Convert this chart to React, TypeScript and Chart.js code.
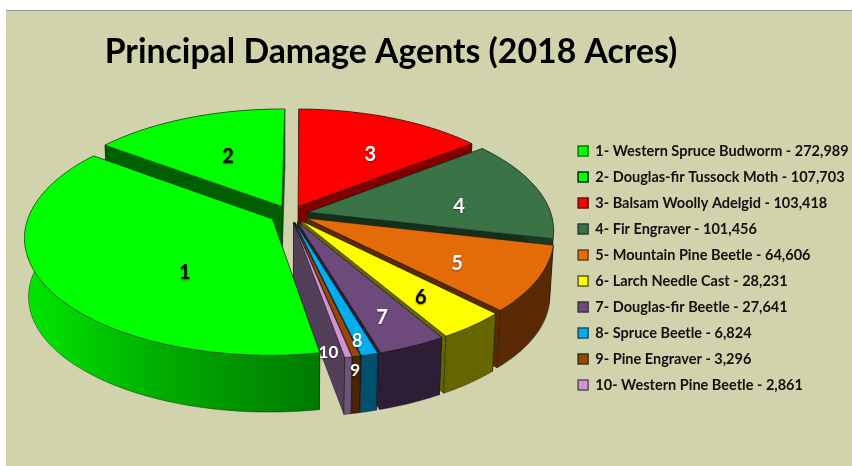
import React, { useEffect, useRef } from "react";
import { Chart, registerables } from "chart.js";

Chart.register(...registerables);

const titleText = "Principal Damage Agents (2018 Acres)";
const agents = [
  "Western Spruce Budworm",
  "Douglas-fir Tussock Moth",
  "Balsam Woolly Adelgid",
  "Fir Engraver",
  "Mountain Pine Beetle",
  "Larch Needle Cast",
  "Douglas-fir Beetle",
  "Spruce Beetle",
  "Pine Engraver",
  "Western Pine Beetle",
];
const acres = [272989, 107703, 103418, 101456, 64606, 28231, 27641, 6824, 3296, 2861];

const topColors = ["#00FF00", "#00FF00", "#FF0000", "#3A7346", "#E36C09", "#FFFF00", "#6E4A7C", "#00AEEF", "#974806", "#D392D3"];
const wallColors = ["#006400", "#006000", "#800000", "#14301C", "#5A2A05", "#666600", "#2E1E35", "#2A1B30", "#4A2404", "#533F5A"];
const rimColors = ["#008000", "#006000", "#800000", "#1D3923", "#5A2A05", "#666600", "#2E1E35", "#00506E", "#4A2404", "#6D5675"];
const legendEdge = ["#0A7A0A", "#003000", "#6A1010", "#2A3E30", "#6A4015", "#5A5A20", "#403048", "#204A60", "#403010", "#555055"];
const labelColors = ["#000", "#000", "#fff", "#fff", "#fff", "#000", "#fff", "#fff", "#fff", "#fff"];
const labelSizes = [20, 20, 20, 20, 20, 20, 20, 18, 17, 17];
const labelReach = [0.49, 0.62, 0.826, 0.729, 0.745, 0.8, 0.84, 0.93, 1.06, 0.75];
const labelDrop = [28, 1, 16, 10, 6, 4, 4, 8.5, 17, 44];
const explode = [15.5, 14, 14, 14, 14, 14, 14, 14, 14, 14];
const drawOrder = [1, 2, 3, 4, 5, 6, 7, 8, 9, 0];

const FONT = "Lato, 'Open Sans', sans-serif";
const SCENE = { cx: 290, cy: 214, a: 243, b: 114, k: 0.15, h: 59, floor: 0.985 };

const project = (X: number, Z: number, down = false) => {
  const s = 1 / (1 - SCENE.k * Z);
  let dx = SCENE.a * X * s;
  let dy = SCENE.b * Z * s;
  if (down) {
    dx *= SCENE.floor;
    dy = dy * SCENE.floor + SCENE.h;
  }
  return [SCENE.cx + dx, SCENE.cy + dy];
};

const pathOf = (ctx: CanvasRenderingContext2D, pts: number[][]) => {
  ctx.beginPath();
  pts.forEach((p, i) => (i ? ctx.lineTo(p[0], p[1]) : ctx.moveTo(p[0], p[1])));
  ctx.closePath();
};

const paint = (ctx: CanvasRenderingContext2D, pts: number[][], fill: string | CanvasGradient) => {
  pathOf(ctx, pts);
  ctx.fillStyle = fill;
  ctx.fill();
  ctx.strokeStyle = "rgba(20,20,20,0.75)";
  ctx.lineWidth = 0.6;
  ctx.stroke();
};

const backdrop = {
  id: "backdrop",
  beforeDraw(chart: any) {
    const { ctx, width, height } = chart;
    ctx.save();
    ctx.fillStyle = "#fff";
    ctx.fillRect(0, 0, width, height);
    ctx.fillStyle = "#D0D3AC";
    ctx.fillRect(6, 10, width - 6, height - 10);
    ctx.fillStyle = "#999";
    ctx.fillRect(6, 10, width - 6, 1);
    ctx.restore();
  },
};

const pie3d = {
  id: "pie3d",
  beforeDatasetsDraw(chart: any) {
    const { ctx } = chart;
    const arcs = chart.getDatasetMeta(0).data;
    const geom = (arc: any) => {
      const { startAngle, endAngle, outerRadius } = arc.getProps(["startAngle", "endAngle", "outerRadius"]);
      const mid = (startAngle + endAngle) / 2;
      const e = arc.options.offset / outerRadius;
      return { startAngle, endAngle, mid, ox: e * Math.cos(mid), oz: e * Math.sin(mid) };
    };
    ctx.save();
    ctx.lineJoin = "round";
    for (const i of drawOrder) {
      const g = geom(arcs[i]);
      const n = Math.max(2, Math.ceil((g.endAngle - g.startAngle) / 0.02));
      const rimTop: number[][] = [];
      const rimBottom: number[][] = [];
      for (let j = 0; j <= n; j++) {
        const a = g.startAngle + ((g.endAngle - g.startAngle) * j) / n;
        const X = g.ox + Math.cos(a);
        const Z = g.oz + Math.sin(a);
        rimTop.push(project(X, Z));
        rimBottom.push(project(X, Z, true));
      }
      const apex = project(g.ox, g.oz);
      const apexDown = project(g.ox, g.oz, true);
      // radial walls
      paint(ctx, [apex, rimTop[0], rimBottom[0], apexDown], wallColors[i]);
      paint(ctx, [apex, rimTop[n], rimBottom[n], apexDown], wallColors[i]);
      // outer rim
      let rimFill: string | CanvasGradient = rimColors[i];
      if (i === 0) {
        const gr = ctx.createLinearGradient(25, 0, 320, 0);
        gr.addColorStop(0, "#00E800");
        gr.addColorStop(0.5, "#00A800");
        gr.addColorStop(1, "#007A00");
        rimFill = gr;
      }
      paint(ctx, [...rimTop, ...rimBottom.slice().reverse()], rimFill);
      // top face
      paint(ctx, [apex, ...rimTop], topColors[i]);
    }
    // slice numbers
    ctx.textAlign = "center";
    ctx.textBaseline = "middle";
    arcs.forEach((arc: any, i: number) => {
      const g = geom(arc);
      const r = labelReach[i];
      const p = project(r * Math.cos(g.mid), r * Math.sin(g.mid));
      ctx.font = `700 ${labelSizes[i]}px ${FONT}`;
      ctx.shadowColor = "rgba(0,0,0,0.45)";
      ctx.shadowBlur = 2;
      ctx.shadowOffsetY = 1;
      ctx.fillStyle = labelColors[i];
      ctx.fillText(String(i + 1), p[0], p[1] + labelDrop[i]);
    });
    ctx.restore();
    return false;
  },
};

const placeBlocks = {
  id: "placeBlocks",
  afterLayout(chart: any) {
    chart.titleBlock.left -= 35;
    chart.titleBlock.right -= 35;
    const lg = chart.legend;
    const dy = 38;
    lg.top += dy;
    lg.bottom += dy;
    const dx = 578 - 11.4 - lg.left;
    lg.left += dx;
    lg.right += dx;
  },
};

export default function App() {
  const ref = useRef<HTMLCanvasElement>(null);
  useEffect(() => {
    const chart = new Chart(ref.current!, {
      type: "pie",
      data: {
        labels: agents.map((a, i) => `${i + 1}- ${a} - ${acres[i].toLocaleString("en-US")}`),
        datasets: [
          {
            data: acres,
            backgroundColor: topColors,
            borderColor: legendEdge,
            borderWidth: 1.5,
            offset: explode,
          },
        ],
      },
      options: {
        animation: false,
        responsive: false,
        rotation: -190.1,
        layout: { padding: { bottom: 6 } },
        plugins: {
          tooltip: { enabled: false },
          title: {
            display: true,
            text: titleText,
            color: "#000",
            font: { family: FONT, size: 33.8, weight: "bold" },
            padding: { top: 32, bottom: 3 },
          },
          legend: {
            position: "right",
            align: "center",
            labels: {
              color: "#111",
              font: { family: FONT, size: 14.5, weight: "bold" },
              boxWidth: 10,
              boxHeight: 10,
              padding: 11.5,
            },
          },
        },
      },
      plugins: [backdrop, pie3d, placeBlocks],
    } as any);
    return () => chart.destroy();
  }, []);
  return (
    <div style={{ position: "fixed", left: 0, top: 0, width: 852, height: 466 }}>
      <canvas
        ref={ref}
        width={852}
        height={466}
        style={{ display: "block", width: 852, height: 466, filter: "blur(0.35px)" }}
      />
    </div>
  );
}
